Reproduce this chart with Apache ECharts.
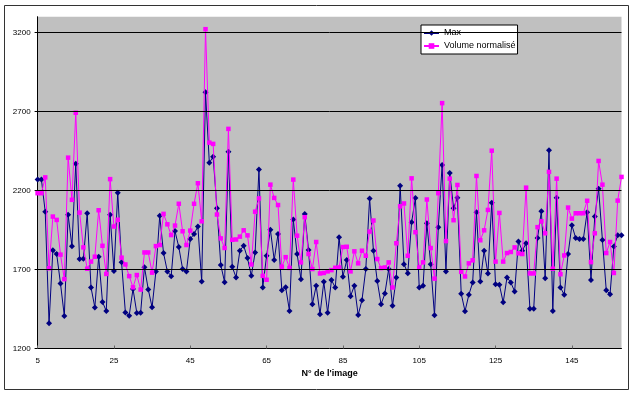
<!DOCTYPE html>
<html>
<head>
<meta charset="utf-8">
<script src="https://cdn.jsdelivr.net/npm/echarts@6/dist/echarts.min.js"></script>
<style>
html,body{margin:0;padding:0;background:#fff;}
#chart{width:633px;height:393px;}
</style>
</head>
<body>
<div id="chart"></div>
<script>
const FIRST_IMAGE = 5;
const X_LABEL_STEP = 20;
const Y_TICKS = [1200, 1700, 2200, 2700, 3200];
const Y_MIN = 1200;
const Y_MAX = 3300;
const X_TITLE = "N° de l'image";
const SERIES_NAMES = ['Max', 'Volume normalisé'];

const maxValues = [
  2270, 2270, 2065, 1360, 1822, 1798, 1611, 1406, 2046, 1847,
  2370, 1766, 1768, 2056, 1586, 1460, 1781, 1495, 1437, 2046,
  1690, 2185, 1746, 1428, 1408, 1577, 1425, 1427, 1715, 1574,
  1461, 1688, 2040, 1804, 1688, 1658, 1943, 1842, 1703, 1688,
  1893, 1925, 1972, 1624, 2822, 2376, 2413, 2088, 1728, 1620,
  2446, 1717, 1650, 1819, 1851, 1772, 1660, 1808, 2333, 1586,
  1787, 1952, 1760, 1925, 1569, 1588, 1438, 2016, 1798, 1639,
  2052, 1823, 1480, 1597, 1417, 1622, 1427, 1633, 1586, 1904,
  1654, 1760, 1531, 1597, 1412, 1506, 1703, 2150, 1819, 1628,
  1480, 1548, 1703, 1470, 1650, 2230, 1734, 1677, 1999, 2152,
  1586, 1597, 1993, 1734, 1410, 1967, 2362, 1688, 2310, 2088,
  2154, 1547, 1436, 1540, 1618, 2063, 1624, 1819, 1675, 2122,
  1606, 1603, 1492, 1650, 1618, 1561, 1878, 1819, 1866, 1452,
  1452, 1899, 2069, 1645, 2455, 1437, 2154, 1586, 1540, 1798,
  1980, 1899, 1893, 1893, 2063, 1633, 2035, 2211, 1887, 1569,
  1544, 1845, 1916, 1916
];

const volumeValues = [
  2183, 2183, 2283, 1708, 2035, 2014, 1794, 1639, 2408, 2141,
  2692, 2060, 1840, 1705, 1750, 1781, 2075, 1850, 1672, 2272,
  1972, 2015, 1775, 1732, 1658, 1587, 1665, 1573, 1808, 1808,
  1680, 1848, 1855, 2052, 1986, 1918, 1978, 2116, 1942, 1855,
  1946, 2116, 2246, 2005, 3221, 2503, 2495, 2048, 1897, 1836,
  2590, 1888, 1890, 1908, 1948, 1916, 1732, 2066, 2150, 1660,
  1635, 2237, 2153, 2108, 1718, 1778, 1710, 2269, 1914, 1745,
  2031, 1798, 1703, 1874, 1675, 1678, 1688, 1696, 1711, 1713,
  1842, 1844, 1688, 1815, 1739, 1819, 1787, 1940, 2010, 1766,
  1709, 1713, 1745, 1586, 1866, 2100, 2118, 1787, 2277, 1936,
  1713, 1745, 2143, 1836, 1642, 2183, 2753, 1880, 2275, 2012,
  2235, 1686, 1656, 1739, 1758, 2292, 1885, 1948, 2077, 2452,
  1750, 2058, 1750, 1804, 1811, 1840, 1802, 1798, 2218, 1675,
  1675, 1968, 2005, 1929, 2318, 1705, 2275, 1670, 1789, 2092,
  2022, 2056, 2056, 2056, 2135, 1747, 1929, 2387, 2237, 1804,
  1874, 1678, 2136, 2286
];

const categories = [];
for (let k = 0; k < maxValues.length; k++) categories.push(String(FIRST_IMAGE + k));

const FONT = "'Liberation Sans', Arial, sans-serif";
const chart = echarts.init(document.getElementById('chart'), null, {renderer: 'canvas'});

chart.setOption({
  animation: false,
  backgroundColor: '#ffffff',
  textStyle: {fontFamily: FONT},
  graphic: [{
    type: 'rect',
    z: -10,
    shape: {x: 4.5, y: 5.5, width: 624, height: 384},
    style: {fill: 'none', stroke: '#333', lineWidth: 1}
  }],
  grid: {
    left: 37.6, right: 11.5, top: 16.7, bottom: 44.5,
    show: true, backgroundColor: '#c0c0c0', borderWidth: 0
  },
  legend: {
    left: 421, top: 25,
    orient: 'vertical',
    backgroundColor: '#ffffff',
    borderColor: '#000', borderWidth: 1,
    padding: [2, 2, 2, 2],
    itemGap: 1,
    itemWidth: 15, itemHeight: 7,
    textStyle: {fontFamily: FONT, fontSize: 9, color: '#000', lineHeight: 12},
    data: SERIES_NAMES
  },
  xAxis: {
    type: 'category',
    data: categories,
    boundaryGap: false,
    name: X_TITLE,
    nameLocation: 'middle',
    nameGap: 19,
    nameTextStyle: {fontFamily: FONT, fontSize: 9, fontWeight: 'bold', color: '#000'},
    axisLine: {lineStyle: {color: '#000', width: 1}},
    axisTick: {show: true, inside: true, length: 3, interval: X_LABEL_STEP - 1, lineStyle: {color: '#666'}},
    axisLabel: {interval: X_LABEL_STEP - 1, fontSize: 8, color: '#000', margin: 8, fontFamily: FONT},
    splitLine: {show: false}
  },
  yAxis: {
    type: 'value',
    min: Y_MIN, max: Y_MAX, interval: 500,
    axisLine: {show: true, lineStyle: {color: '#000', width: 1}},
    axisTick: {show: true, length: 3, customValues: Y_TICKS, lineStyle: {color: '#000'}},
    axisLabel: {
      customValues: Y_TICKS, fontSize: 8, color: '#000', margin: 7, fontFamily: FONT,
      formatter: v => String(v)
    },
    splitLine: {show: false}
  },
  series: [
    {
      name: SERIES_NAMES[0],
      type: 'line',
      data: maxValues,
      symbol: 'diamond',
      symbolSize: 6,
      showAllSymbol: true,
      color: '#000080',
      lineStyle: {color: '#000080', width: 1},
      itemStyle: {color: '#000080'},
      markLine: {
        silent: true,
        symbol: 'none',
        label: {show: false},
        lineStyle: {color: '#000', width: 1, type: 'solid'},
        data: Y_TICKS.filter(v => v > Y_MIN).map(v => ({yAxis: v}))
      },
      z: 2
    },
    {
      name: SERIES_NAMES[1],
      type: 'line',
      data: volumeValues,
      symbol: 'rect',
      symbolSize: 4.5,
      showAllSymbol: true,
      color: '#ff00ff',
      lineStyle: {color: '#ff00ff', width: 1},
      itemStyle: {color: '#ff00ff'},
      z: 3
    }
  ]
});
</script>
</body>
</html>
